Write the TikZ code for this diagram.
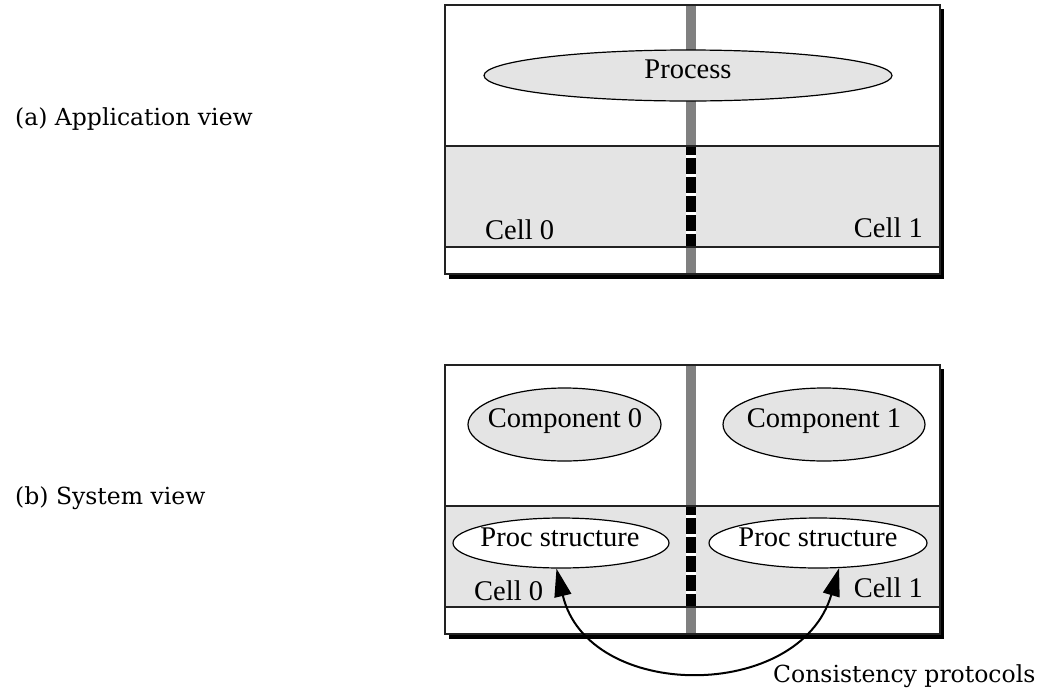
\documentclass[tikz,border=0pt]{standalone}
\usepackage{fontspec}
\setmainfont{Liberation Serif}
\newfontfamily\labelfont{DejaVu Serif}
\usetikzlibrary{arrows.meta,shapes.geometric}
\definecolor{bandgray}{HTML}{E4E4E4}
\definecolor{bargray}{HTML}{808080}
\definecolor{framegray}{HTML}{222222}

% One panel: shadowed frame, shaded cell band, and the cell divider
\newcommand{\cellpanel}{%
  \fill[black] (449,9) rectangle (944,279);
  \fill[white] (445,5) rectangle (940,274);
  \fill[bandgray] (445,146) rectangle (940,247);
  \draw[bargray, line width=10pt] (691,5) -- (691,146);
  \draw[bargray, line width=10pt] (691,247) -- (691,274);
  \draw[white, line width=10pt] (691,146) -- (691,247);
  \draw[black, line width=10pt, dash pattern=on 15.7pt off 3.3pt, dash phase=6.7pt] (691,146) -- (691,247);
  \draw[framegray, line width=1.5pt] (445,146) -- (940,146);
  \draw[framegray, line width=1.5pt] (445,247) -- (940,247);
  \draw[framegray, line width=1.5pt] (445,5) rectangle (940,274);
}

\begin{document}
\begin{tikzpicture}[x=1pt,y=-1pt,
  boxtext/.style={font=\fontsize{28.5}{30}\selectfont, anchor=base, inner sep=0pt},
  viewlabel/.style={font=\labelfont\fontsize{23.5}{26}\selectfont, anchor=base west, inner sep=0pt},
  oval/.style={ellipse, draw=black, line width=1.2pt, inner sep=0pt},
  protocol/.style={line width=2pt, {Triangle[length=28pt,width=17pt]}-{Triangle[length=28pt,width=17pt]}}]

\useasboundingbox (0,0) rectangle (1037,689);

% ---------- (a) application view ----------
\node[viewlabel] (alabel) at (15,125) {(a) Application view};
\cellpanel
\node[oval, fill=bandgray, minimum width=408pt, minimum height=51pt] (proc) at (688,75.5) {};
\node[boxtext] (proctext) at (688,78) {Process};
\node[boxtext, anchor=base west] (cellA0) at (485,239) {Cell 0};
\node[boxtext, anchor=base east] (cellA1) at (923,237) {Cell 1};

% ---------- (b) system view ----------
\node[viewlabel] (blabel) at (15,504) {(b) System view};
\begin{scope}[shift={(0,360)}]
  \cellpanel
\end{scope}
\node[oval, fill=bandgray, minimum width=193pt, minimum height=73pt] (comp0) at (564.5,424.5) {};
\node[oval, fill=bandgray, minimum width=202pt, minimum height=73pt] (comp1) at (824,424.5) {};
\node[boxtext] (comp0text) at (565,427) {Component 0};
\node[boxtext] (comp1text) at (824,427) {Component 1};
\node[oval, fill=white, minimum width=216pt, minimum height=50pt] (ps0) at (561,543) {};
\node[oval, fill=white, minimum width=218pt, minimum height=50pt] (ps1) at (818,543) {};
\node[boxtext] (ps0text) at (560,546.7) {Proc structure};
\node[boxtext] (ps1text) at (818,546.7) {Proc structure};
\node[boxtext, anchor=base west] (cellB0) at (474,600) {Cell 0};
\node[boxtext, anchor=base east] (cellB1) at (923,597) {Cell 1};

% consistency protocols between the two proc structures
\draw[protocol] (ps0.-100) .. controls (588,702) and (800,702) .. (ps1.-50);
\node[viewlabel] (consist) at (773,682) {Consistency protocols};
\end{tikzpicture}
\end{document}
